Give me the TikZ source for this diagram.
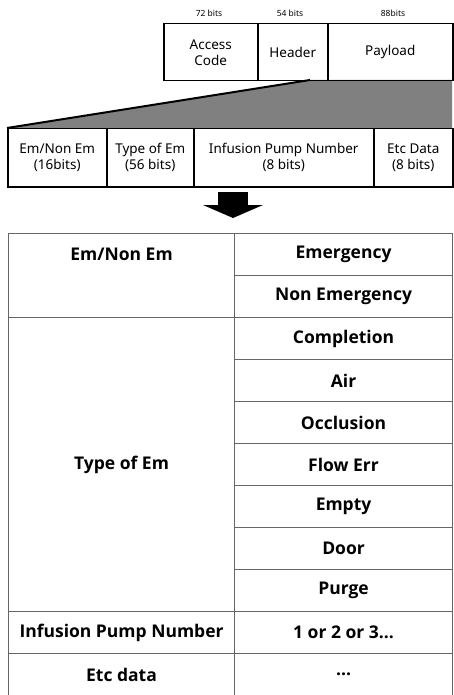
\documentclass[tikz,border=0pt]{standalone}
\usepackage{fontspec}
\setmainfont{Noto Sans}
\newfontfamily\tablefont{Open Sans}
\newcommand{\dotsthree}{...}
\begin{document}
\begin{tikzpicture}[x=1pt,y=-1pt,
  cell/.style={draw=black, line width=1.5pt, inner sep=0pt, anchor=north west, align=center, font=\fontsize{13.5}{16}\selectfont},
  bitlabel/.style={font=\fontsize{8.5}{10}\selectfont},
  tcell/.style={draw=black!60, line width=1.1pt, inner sep=0pt, anchor=north west, minimum width=218pt, minimum height=42pt, font=\tablefont\bfseries\fontsize{17.5}{20}\selectfont},
  ttext/.style={font=\tablefont\bfseries\fontsize{17.5}{20}\selectfont}]
  \useasboundingbox (0,0) rectangle (453,695);

  % zoom wedge from payload down to the second row
  \fill [gray] (310,80) -- (452,80) -- (452,128) -- (7,128) -- cycle;
  \draw [line width=2pt] (310,80) -- (7,128);

  % packet
  \node [bitlabel] (b72) at (209,13) {72 bits};
  \node [bitlabel] (b54) at (290,13) {54 bits};
  \node [bitlabel] (b88) at (393,13) {88bits};
  \node [cell, minimum width=94pt, minimum height=57pt] (access) at (163,23) {Access\\Code};
  \node [cell, minimum width=70pt, minimum height=57pt] (header) at (257,23) {Header};
  \node [cell, minimum width=125pt, minimum height=57pt] (payload) at (327,23) {Payload};

  % payload fields
  \node [cell, minimum width=99pt, minimum height=58pt] (fem) at (7,128) {Em/Non Em\\(16bits)};
  \node [cell, minimum width=87pt, minimum height=58pt] (ftype) at (106,128) {Type of Em\\(56 bits)};
  \node [cell, minimum width=180pt, minimum height=58pt] (fpump) at (193,128) {Infusion Pump Number\\(8 bits)};
  \node [cell, minimum width=79pt, minimum height=58pt] (fetc) at (373,128) {Etc Data\\(8 bits)};

  % down arrow
  \fill (218,192) rectangle (248,205);
  \fill (203,205) -- (263,205) -- (233,218) -- cycle;

  % table
  \node [tcell, minimum width=226pt, minimum height=84pt] (tem) at (8,233) {};
  \node [ttext] (temtxt) at ([yshift=-21pt]tem.north) {Em/Non Em};
  \node [tcell, minimum width=226pt, minimum height=294pt] (ttype) at (8,317) {Type of Em};
  \node [tcell, minimum width=226pt] (tpump) at (8,611) {Infusion Pump Number};
  \node [tcell, minimum width=226pt] (tetc) at (8,653) {Etc data};
  \foreach \txt [count=\i from 0] in {Emergency, Non Emergency, Completion, Air, Occlusion, Flow Err, Empty, Door, Purge, 1 or 2 or 3\dotsthree, \dotsthree}
    \node [tcell] (r\i) at (234,233+42*\i) {\txt};
\end{tikzpicture}
\end{document}
